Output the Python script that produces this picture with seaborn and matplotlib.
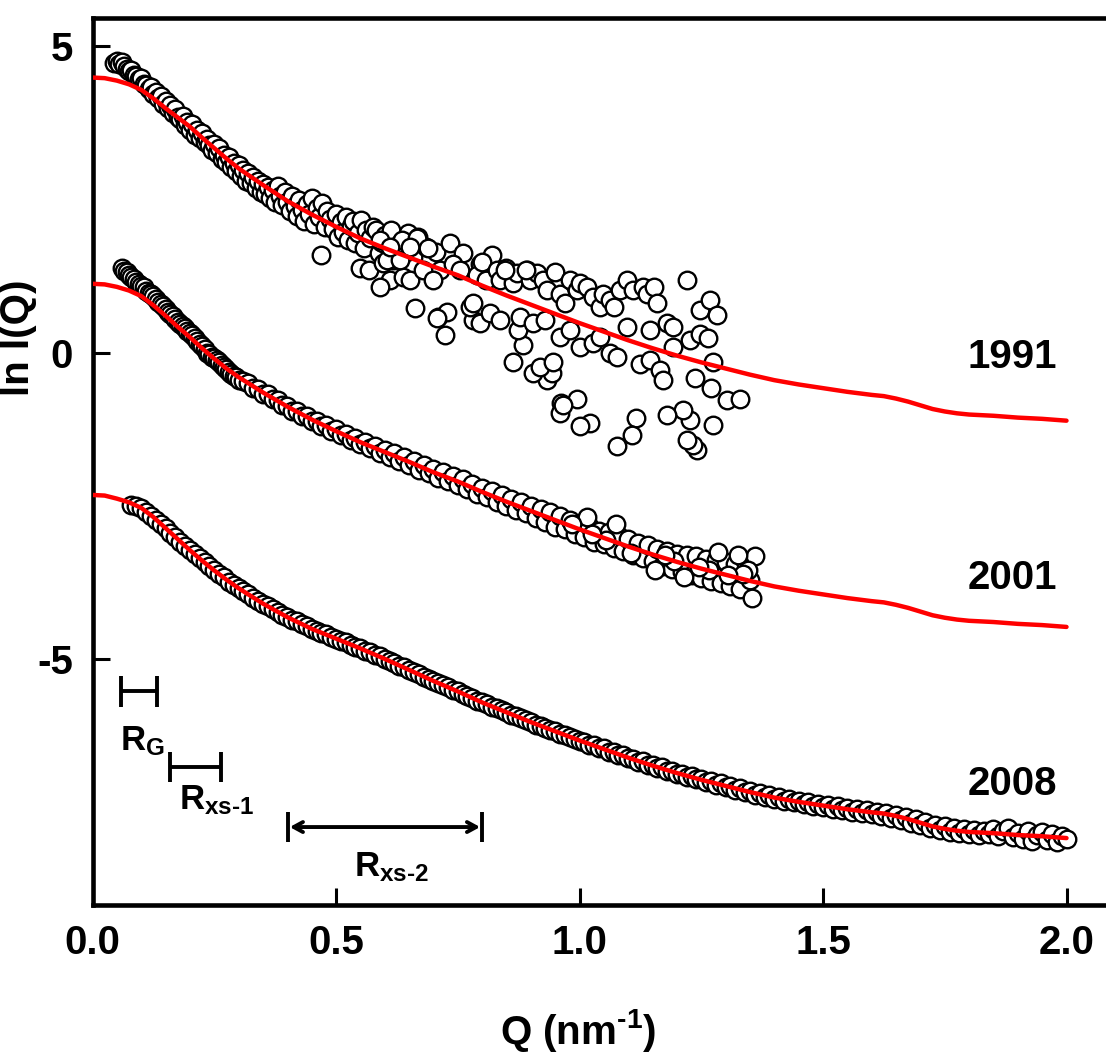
import matplotlib
matplotlib.use("Agg")
import matplotlib.pyplot as plt
import seaborn as sns

# ------------------------------------
# DATA
# ------------------------------------

# fitted model curves, Q in nm^-1
fit_q = [0.00, 0.025, 0.05, 0.075, 0.10, 0.125, 0.15, 0.175, 0.20, 0.225,
         0.25, 0.275, 0.30, 0.35, 0.40, 0.45,
         0.50, 0.55, 0.60, 0.65, 0.70, 0.75, 0.80, 0.85, 0.90, 0.95,
         1.00, 1.05, 1.10, 1.15, 1.20, 1.25, 1.30, 1.35, 1.40, 1.45,
         1.50, 1.55, 1.60, 1.625, 1.65, 1.675, 1.70, 1.725, 1.75, 1.775,
         1.80, 1.85, 1.90, 1.95, 2.00]
fit_1991 = [4.48, 4.47, 4.43, 4.37, 4.28, 4.14, 3.98, 3.83, 3.68, 3.50,
            3.33, 3.16, 3.00, 2.73, 2.47, 2.25,
            2.05, 1.86, 1.70, 1.55, 1.40, 1.26, 1.09, 0.93, 0.78, 0.63,
            0.48, 0.34, 0.20, 0.07, -0.05, -0.16, -0.26, -0.36, -0.45, -0.52,
            -0.58, -0.64, -0.69, -0.71, -0.75, -0.80, -0.86, -0.92, -0.96, -0.99,
            -1.01, -1.03, -1.06, -1.08, -1.11]
fit_2001 = [1.12, 1.11, 1.07, 1.01, 0.92, 0.77, 0.60, 0.42, 0.25, 0.07,
            -0.10, -0.26, -0.40, -0.65, -0.88, -1.09,
            -1.28, -1.46, -1.62, -1.78, -1.95, -2.10, -2.27, -2.43, -2.58, -2.73,
            -2.88, -3.02, -3.16, -3.29, -3.41, -3.52, -3.62, -3.72, -3.81, -3.88,
            -3.94, -4.00, -4.05, -4.07, -4.11, -4.16, -4.22, -4.28, -4.32, -4.35,
            -4.37, -4.39, -4.42, -4.44, -4.47]
fit_2008 = [-2.32, -2.33, -2.38, -2.44, -2.53, -2.68, -2.86, -3.04, -3.22, -3.39,
            -3.55, -3.70, -3.84, -4.09, -4.31, -4.50,
            -4.66, -4.82, -4.99, -5.17, -5.35, -5.52, -5.70, -5.86, -6.02, -6.17,
            -6.32, -6.46, -6.60, -6.73, -6.85, -6.96, -7.06, -7.16, -7.25, -7.32,
            -7.38, -7.44, -7.49, -7.51, -7.55, -7.60, -7.66, -7.72, -7.76, -7.79,
            -7.81, -7.83, -7.86, -7.88, -7.91]

# measured ln I(Q), 1991
q_1991 = [0.045, 0.050, 0.055, 0.060, 0.065, 0.070, 0.075, 0.080, 0.085, 0.090,
          0.095, 0.100, 0.105, 0.110, 0.115, 0.120, 0.125, 0.130, 0.135, 0.140,
          0.145, 0.150, 0.155, 0.160, 0.165, 0.170, 0.175, 0.180, 0.185, 0.190,
          0.195, 0.200, 0.205, 0.210, 0.215, 0.220, 0.225, 0.230, 0.235, 0.240,
          0.245, 0.250, 0.255, 0.260, 0.265, 0.270, 0.275, 0.280, 0.285, 0.290,
          0.295, 0.300, 0.305, 0.310, 0.315, 0.320, 0.325, 0.330, 0.335, 0.340,
          0.345, 0.350, 0.355, 0.360, 0.365, 0.370, 0.375, 0.380, 0.385, 0.390,
          0.395, 0.400, 0.405, 0.410, 0.415, 0.420, 0.425, 0.430, 0.435, 0.440,
          0.445, 0.450, 0.455, 0.460, 0.465, 0.470, 0.472, 0.478, 0.482, 0.488,
          0.494, 0.500, 0.505, 0.510, 0.515, 0.520, 0.525, 0.530, 0.535, 0.540,
          0.545, 0.549, 0.552, 0.558, 0.562, 0.568, 0.570, 0.576, 0.582, 0.588,
          0.592, 0.596, 0.600,
          0.596, 0.613, 0.617, 0.631, 0.648, 0.658, 0.669, 0.685, 0.706, 0.714,
          0.658, 0.635, 0.666, 0.689, 0.734, 0.761, 0.605, 0.611, 0.638, 0.652,
          0.662, 0.709, 0.727, 0.724, 0.679, 0.700, 0.741, 0.755, 0.590, 0.590,
          0.631, 0.611, 0.652,
          0.796, 0.789, 0.809, 0.820, 0.799, 0.830, 0.837, 0.850, 0.864, 0.871,
          0.892, 0.898, 0.912, 0.926, 0.933, 0.950, 0.960, 0.970, 0.981, 0.994,
          1.001, 1.015, 1.028, 1.042, 1.049, 1.063, 1.070, 1.083, 1.097, 1.110,
          1.131, 1.138, 1.152, 1.159, 1.145, 1.179, 1.193, 1.220, 1.248, 1.268,
          1.282, 1.227, 1.248, 1.264, 1.275, 1.237, 1.271, 1.302, 1.329, 1.275,
          1.227, 1.213, 1.179, 1.117, 1.107, 1.076, 1.022, 1.001, 0.994, 0.963,
          0.960, 0.933, 0.943, 0.905, 0.919, 0.946, 0.864, 0.884, 0.707, 0.782,
          0.775, 0.796, 0.816, 0.837, 0.874, 0.878, 0.905, 0.929, 0.960, 0.981,
          1.001, 1.028, 1.042, 1.063, 1.076, 1.097, 1.124, 1.145, 1.165, 1.172,
          1.193, 1.241, 1.234, 1.220, 0.967, 0.782, 0.847, 0.891]
lnI_1991 = [4.72, 4.75, 4.70, 4.74, 4.66, 4.62, 4.58, 4.60, 4.52, 4.50,
            4.45, 4.47, 4.38, 4.36, 4.30, 4.33, 4.22, 4.25, 4.14, 4.18,
            4.05, 4.10, 3.98, 4.03, 3.90, 3.96, 3.84, 3.80, 3.86, 3.70,
            3.76, 3.63, 3.72, 3.55, 3.62, 3.50, 3.58, 3.43, 3.48, 3.38,
            3.30, 3.40, 3.25, 3.33, 3.15, 3.22, 3.10, 3.18, 3.02, 3.08,
            2.95, 3.05, 2.88, 2.98, 2.80, 2.92, 2.76, 2.86, 2.68, 2.80,
            2.62, 2.74, 2.58, 2.70, 2.52, 2.64, 2.46, 2.72, 2.55, 2.40,
            2.62, 2.45, 2.30, 2.55, 2.38, 2.22, 2.48, 2.32, 2.15, 2.42,
            2.26, 2.52, 2.10, 2.35, 2.20, 1.59, 2.44, 2.05, 2.30, 2.18,
            2.02, 2.26, 1.88, 2.12, 1.96, 2.20, 1.84, 2.06, 2.14, 1.78,
            1.95, 1.38, 2.16, 1.70, 2.00, 1.34, 1.86, 2.04, 1.99, 1.62,
            1.80, 1.46, 1.92,
            1.78, 1.99, 1.51, 1.78, 1.95, 1.56, 1.88, 1.72, 1.64, 1.34,
            1.38, 1.83, 1.86, 1.70, 1.78, 1.62, 1.51, 1.18, 1.23, 1.18,
            0.72, 0.58, 0.66, 0.29, 1.34, 1.18, 1.45, 1.34, 1.83, 1.07,
            1.51, 1.72, 1.72,
            1.45, 1.26, 1.18, 1.59, 1.48, 1.34, 1.18, 1.37, 1.13, 1.29,
            1.34, 1.18, 1.29, 1.18, 1.02, 1.32, 0.96, 0.80, 1.18, 1.02,
            1.13, 1.07, 0.91, 0.75, 0.96, 0.86, 0.75, 1.02, 1.18, 1.02,
            1.07, 0.96, 1.07, 0.80, 0.37, 0.48, 0.42, 1.18, 0.69, 0.86,
            0.61, 0.20, 0.31, 0.23, -0.15, -0.42, -0.58, -0.77, -0.75, -1.18,
            -1.10, -0.94, -1.02, -1.07, -1.34, -1.53, -1.15, -1.20, -0.75, -0.83,
            -0.99, -0.45, -0.34, -0.34, -0.23, -0.15, -0.15, 0.12, 0.56, 0.53,
            0.75, 0.48, 0.64, 0.53, 0.37, 0.58, 0.48, 0.53, 0.26, 0.37,
            0.09, 0.15, 0.26, -0.01, -0.07, 0.42, -0.18, -0.12, -0.29, -0.45,
            0.09, -1.59, -1.51, -1.43, -0.86, 0.81, 1.34, 1.34]

# measured ln I(Q), 2001
q_2001 = [0.060, 0.065, 0.070, 0.075, 0.080, 0.085, 0.090, 0.095, 0.100, 0.105,
          0.110, 0.115, 0.120, 0.125, 0.130, 0.135, 0.140, 0.145, 0.150, 0.155,
          0.160, 0.165, 0.170, 0.175, 0.180, 0.185, 0.190, 0.195, 0.200, 0.205,
          0.210, 0.215, 0.220, 0.225, 0.230, 0.235, 0.240, 0.245, 0.250, 0.255,
          0.260, 0.265, 0.270, 0.275, 0.280, 0.285, 0.290, 0.295, 0.300,
          0.31, 0.32, 0.33, 0.34, 0.35, 0.36, 0.37, 0.38, 0.39, 0.40,
          0.41, 0.42, 0.43, 0.44, 0.45, 0.46, 0.47, 0.48, 0.49, 0.50,
          0.51, 0.52, 0.53, 0.54, 0.55, 0.56, 0.57, 0.58, 0.59, 0.60,
          0.61, 0.62, 0.63, 0.64, 0.65, 0.66, 0.67, 0.68, 0.69, 0.70,
          0.71, 0.72, 0.73, 0.74, 0.75, 0.76, 0.77, 0.78, 0.79, 0.80,
          0.81, 0.82, 0.83, 0.84, 0.85, 0.86, 0.87, 0.88, 0.89, 0.90,
          0.91, 0.92, 0.93, 0.94, 0.95, 0.96, 0.97, 0.98, 0.99, 1.00,
          1.01, 1.02, 1.03, 1.04, 1.05, 1.06, 1.07, 1.08, 1.09, 1.10,
          1.11, 1.12, 1.13, 1.14, 1.15, 1.16, 1.17, 1.18, 1.19, 1.20,
          1.21, 1.22, 1.23, 1.24, 1.25, 1.26, 1.27, 1.28, 1.29, 1.30,
          1.31, 1.32, 1.33, 1.34, 1.35, 1.36,
          1.355, 1.345, 1.335, 1.325, 1.305, 1.285, 1.265, 1.245, 1.215, 1.195,
          1.175, 1.155, 1.105, 1.075, 1.055, 1.025, 1.015, 0.985]
lnI_2001 = [1.37, 1.33, 1.31, 1.26, 1.23, 1.20, 1.15, 1.11, 1.08, 1.06,
            1.01, 0.97, 0.95, 0.92, 0.87, 0.82, 0.79, 0.76, 0.71, 0.66,
            0.63, 0.60, 0.55, 0.50, 0.47, 0.44, 0.40, 0.35, 0.32, 0.29,
            0.24, 0.18, 0.14, 0.10, 0.05, 0.00, -0.02, -0.07, -0.09, -0.12,
            -0.16, -0.21, -0.24, -0.26, -0.31, -0.35, -0.38, -0.40, -0.44,
            -0.47, -0.49, -0.57, -0.60, -0.67, -0.68, -0.76, -0.78, -0.85, -0.87,
            -0.95, -0.95, -1.03, -1.03, -1.12, -1.11, -1.19, -1.18, -1.27, -1.25,
            -1.34, -1.33, -1.42, -1.40, -1.49, -1.46, -1.56, -1.52, -1.63, -1.58,
            -1.70, -1.64, -1.77, -1.70, -1.83, -1.76, -1.91, -1.83, -1.97, -1.89,
            -2.04, -1.95, -2.10, -2.01, -2.15, -2.06, -2.23, -2.14, -2.30, -2.20,
            -2.36, -2.26, -2.43, -2.32, -2.50, -2.38, -2.56, -2.44, -2.61, -2.50,
            -2.70, -2.55, -2.76, -2.60, -2.84, -2.66, -2.88, -2.72, -2.95, -2.78,
            -3.00, -2.82, -3.08, -2.90, -3.12, -2.93, -3.18, -2.98, -3.24, -3.04,
            -3.30, -3.10, -3.35, -3.14, -3.40, -3.20, -3.48, -3.24, -3.52, -3.28,
            -3.58, -3.30, -3.62, -3.32, -3.68, -3.36, -3.72, -3.38, -3.76, -3.42,
            -3.80, -3.45, -3.85, -3.40, -3.70, -3.32,
            -4.00, -3.55, -3.60, -3.30, -3.62, -3.25, -3.55, -3.50, -3.66, -3.40,
            -3.30, -3.55, -3.26, -2.80, -3.05, -2.95, -2.68, -2.80]

# measured ln I(Q), 2008
q_2008 = [0.08, 0.09, 0.10, 0.11, 0.12, 0.13, 0.14, 0.15, 0.16, 0.17,
          0.18, 0.19, 0.20, 0.21, 0.22, 0.23, 0.24, 0.25, 0.26, 0.27,
          0.28, 0.29, 0.30, 0.31, 0.32, 0.33, 0.34, 0.35, 0.36, 0.37,
          0.38, 0.39, 0.40, 0.41, 0.42, 0.43, 0.44, 0.45, 0.46, 0.47,
          0.48, 0.49, 0.50, 0.51, 0.52, 0.53, 0.54, 0.55, 0.56, 0.57,
          0.58, 0.59, 0.60, 0.61, 0.62, 0.63, 0.64, 0.65, 0.66, 0.67,
          0.68, 0.69, 0.70, 0.71, 0.72, 0.73, 0.74, 0.75, 0.76, 0.77,
          0.78, 0.79, 0.80, 0.81, 0.82, 0.83, 0.84, 0.85, 0.86, 0.87,
          0.88, 0.89, 0.90, 0.91, 0.92, 0.93, 0.94, 0.95, 0.96, 0.97,
          0.98, 0.99, 1.00, 1.01, 1.02, 1.03, 1.04, 1.05, 1.06, 1.07,
          1.08, 1.09, 1.10, 1.11, 1.12, 1.13, 1.14, 1.15, 1.16, 1.17,
          1.18, 1.19, 1.20, 1.21, 1.22, 1.23, 1.24, 1.25, 1.26, 1.27,
          1.28, 1.29, 1.30, 1.31, 1.32, 1.33, 1.34, 1.35, 1.36, 1.37,
          1.38, 1.39, 1.40, 1.41, 1.42, 1.43, 1.44, 1.45, 1.46, 1.47,
          1.48, 1.49, 1.50, 1.51, 1.52, 1.53, 1.54, 1.55, 1.56, 1.57,
          1.58, 1.59, 1.60, 1.61, 1.62, 1.63, 1.64, 1.65, 1.66, 1.67,
          1.68, 1.69, 1.70, 1.71, 1.72, 1.73, 1.74, 1.75, 1.76, 1.77,
          1.78, 1.79, 1.80, 1.81, 1.82, 1.83, 1.84, 1.85, 1.86, 1.87,
          1.88, 1.89, 1.90, 1.91, 1.92, 1.93, 1.94, 1.95, 1.96, 1.97,
          1.98, 1.99, 2.00]
lnI_2008 = [-2.48, -2.50, -2.53, -2.60, -2.67, -2.72, -2.80, -2.86, -2.94, -3.00,
            -3.08, -3.15, -3.22, -3.29, -3.35, -3.42, -3.48, -3.55, -3.61, -3.66,
            -3.73, -3.78, -3.84, -3.89, -3.94, -4.00, -4.04, -4.09, -4.13, -4.18,
            -4.22, -4.27, -4.31, -4.35, -4.38, -4.43, -4.46, -4.50, -4.53, -4.57,
            -4.59, -4.63, -4.66, -4.70, -4.72, -4.76, -4.79, -4.82, -4.86, -4.88,
            -4.93, -4.95, -4.99, -5.03, -5.06, -5.10, -5.13, -5.17, -5.21, -5.24,
            -5.28, -5.32, -5.35, -5.39, -5.42, -5.45, -5.49, -5.52, -5.56, -5.59,
            -5.63, -5.67, -5.70, -5.73, -5.77, -5.79, -5.83, -5.86, -5.90, -5.92,
            -5.96, -5.99, -6.02, -6.06, -6.08, -6.11, -6.15, -6.16, -6.21, -6.23,
            -6.27, -6.29, -6.33, -6.34, -6.39, -6.40, -6.44, -6.45, -6.50, -6.51,
            -6.56, -6.56, -6.61, -6.62, -6.67, -6.66, -6.72, -6.72, -6.77, -6.76,
            -6.82, -6.81, -6.86, -6.86, -6.91, -6.90, -6.95, -6.94, -7.00, -6.98,
            -7.04, -7.02, -7.08, -7.06, -7.13, -7.10, -7.16, -7.14, -7.20, -7.18,
            -7.24, -7.21, -7.27, -7.24, -7.30, -7.27, -7.33, -7.30, -7.35, -7.32,
            -7.38, -7.35, -7.41, -7.37, -7.43, -7.39, -7.45, -7.42, -7.48, -7.44,
            -7.50, -7.46, -7.52, -7.48, -7.55, -7.50, -7.58, -7.53, -7.61, -7.56,
            -7.66, -7.60, -7.70, -7.64, -7.74, -7.69, -7.78, -7.72, -7.81, -7.75,
            -7.83, -7.77, -7.85, -7.78, -7.86, -7.79, -7.84, -7.76, -7.88, -7.80,
            -7.74, -7.90, -7.82, -7.92, -7.80, -7.95, -7.86, -7.81, -7.94, -7.85,
            -7.97, -7.88, -7.93]

# curve labels
year_labels = ["1991", "2001", "2008"]
year_label_q = 1.888
year_label_y = [-0.08, -3.67, -7.03]

# length-scale ranges marked at lower left (Q start, Q end)
range_names = [r"R$_\mathregular{G}$", r"R$_\mathregular{xs\text{-}1}$", r"R$_\mathregular{xs\text{-}2}$"]
range_q = [(0.058, 0.133), (0.159, 0.264), (0.401, 0.800)]

x_ticks = [0.0, 0.5, 1.0, 1.5, 2.0]
x_tick_labels = ["0.0", "0.5", "1.0", "1.5", "2.0"]
y_ticks = [5, 0, -5]
y_tick_labels = ["5", "0", "-5"]


# ------------------------------------
# STYLE
# ------------------------------------

sns.set_theme(style="ticks")
plt.rcParams["font.family"] = ["Liberation Sans", "DejaVu Sans"]
plt.rcParams["font.weight"] = "bold"
plt.rcParams["mathtext.fontset"] = "custom"
plt.rcParams["mathtext.rm"] = "Liberation Sans:bold"
plt.rcParams["mathtext.it"] = "Liberation Sans:bold"
plt.rcParams["mathtext.bf"] = "Liberation Sans:bold"
plt.rcParams["mathtext.default"] = "rm"
plt.rcParams["axes.unicode_minus"] = False
for key in ["text.color", "axes.labelcolor", "xtick.color", "ytick.color", "axes.edgecolor"]:
    plt.rcParams[key] = "black"

fig = plt.figure(figsize=(11.06, 10.64), dpi=100)
# axis frame runs off the right edge of the picture
ax = fig.add_axes([92.5 / 1106, 159 / 1064, 1022.7 / 1106, 887 / 1064])

# ------------------------------------
# DRAW
# ------------------------------------

for q, lnI in [(q_1991, lnI_1991), (q_2001, lnI_2001), (q_2008, lnI_2008)]:
    sns.scatterplot(x=q, y=lnI, ax=ax, s=160, color="white",
                    edgecolor="black", linewidth=1.7, zorder=2, legend=False)

for fit in [fit_1991, fit_2001, fit_2008]:
    sns.lineplot(x=fit_q, y=fit, ax=ax, color="red", linewidth=3.2,
                 zorder=3, legend=False)

for name, y in zip(year_labels, year_label_y):
    ax.text(year_label_q, y, name, fontsize=29, fontweight="bold",
            ha="center", va="center")

# range bars
bar_y = [-5.52, -6.75, -7.73]
cap = 0.25
for i, ((q0, q1), by) in enumerate(zip(range_q, bar_y)):
    ax.vlines([q0, q1], by - cap, by + cap, color="black", linewidth=2.8)
    if i < 2:
        ax.hlines(by, q0, q1, color="black", linewidth=2.8)
    else:
        ax.annotate("", xy=(q1 - 0.004, by), xytext=(q0 + 0.004, by),
                    arrowprops=dict(arrowstyle="<->,head_length=0.55,head_width=0.3",
                                    color="black", lw=2.8, shrinkA=0, shrinkB=0))

label_pos = [(0.102, -6.33), (0.255, -7.30), (0.615, -8.38)]
for name, (lx, ly) in zip(range_names, label_pos):
    ax.text(lx, ly, name, fontsize=25, fontweight="bold", ha="center", va="center")

ax.set_xlim(0, 2.1)
ax.set_ylim(-9.0, 5.45)
ax.set_xticks(x_ticks)
ax.set_xticklabels(x_tick_labels)
ax.set_yticks(y_ticks)
ax.set_yticklabels(y_tick_labels)
ax.tick_params(direction="in", length=12, width=2.2, labelsize=29,
               pad=14, top=False, right=False)
for lab in ax.get_xticklabels() + ax.get_yticklabels():
    lab.set_fontweight("bold")
for side in ["left", "bottom", "top", "right"]:
    ax.spines[side].set_linewidth(3.3)

ax.set_xlabel(r"Q (nm$^\mathregular{\text{-}1}$)", fontsize=29, fontweight="bold")
ax.xaxis.set_label_coords(0.475, -0.115)
ax.set_ylabel("ln I(Q)", fontsize=29, fontweight="bold")
ax.yaxis.set_label_coords(-0.054, 0.64)

fig.savefig("out.png", dpi=100)
